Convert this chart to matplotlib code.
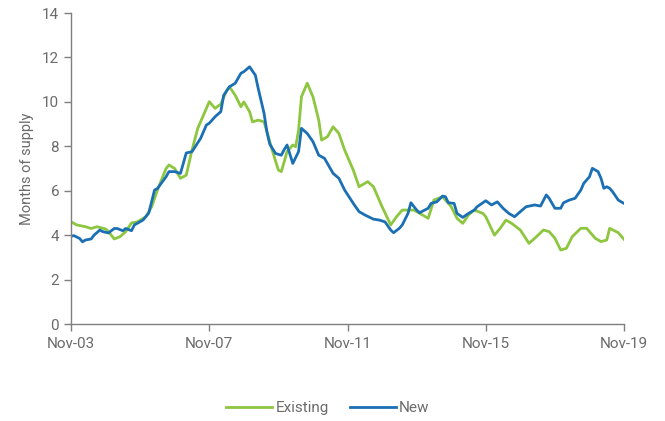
import matplotlib
matplotlib.use("Agg")
import matplotlib.pyplot as plt

# months since Nov-2003 and months of supply
existing_months = [0, 2, 5, 7, 9, 12, 13, 15, 17, 19, 21, 23, 26, 28, 30, 33, 34, 36, 38, 40,
                   42, 44, 46, 48, 50, 52, 54, 55, 57, 59, 60, 62, 63, 65, 67, 68, 70, 72, 73, 74,
                   75, 77, 78, 79, 80, 82, 84, 86, 87, 89, 91, 93, 95, 98, 100, 103, 105, 108, 111, 113,
                   115, 119, 122, 124, 126, 129, 132, 134, 136, 138, 140, 143, 144, 147, 149, 151, 153, 156, 159, 161,
                   164, 166, 168, 170, 172, 174, 177, 179, 182, 184, 186, 187, 190, 192]
existing = [4.6, 4.46, 4.38, 4.3, 4.38, 4.28, 4.16, 3.83, 3.93, 4.16, 4.55, 4.6, 4.83, 5.28, 6.03, 7.0, 7.16, 7.0, 6.56, 6.7,
            7.83, 8.81, 9.41, 10.01, 9.71, 9.9, 10.5, 10.68, 10.3, 9.78, 10.0, 9.56, 9.1, 9.18, 9.1, 8.66, 7.76, 6.93, 6.86, 7.3,
            7.76, 8.06, 7.98, 8.73, 10.23, 10.84, 10.23, 9.18, 8.28, 8.43, 8.88, 8.58, 7.83, 6.93, 6.18, 6.41, 6.18, 5.28, 4.46, 4.83,
            5.13, 5.13, 4.91, 4.76, 5.58, 5.73, 5.28, 4.76, 4.53, 4.91, 5.13, 4.98, 4.83, 4.0, 4.31, 4.68, 4.53, 4.23, 3.63, 3.86,
            4.23, 4.16, 3.86, 3.33, 3.41, 3.93, 4.31, 4.31, 3.86, 3.71, 3.78, 4.31, 4.11, 3.81]

new_months = [0, 1, 3, 4, 5, 7, 8, 10, 11, 13, 15, 16, 18, 19, 21, 22, 25, 27, 29, 30,
              33, 34, 36, 38, 40, 42, 45, 47, 48, 50, 52, 53, 55, 57, 59, 60, 62, 64, 65, 67,
              68, 69, 71, 73, 74, 75, 77, 79, 80, 82, 84, 86, 88, 91, 93, 95, 98, 100, 102, 105,
              107, 109, 111, 112, 114, 115, 117, 118, 120, 121, 124, 125, 127, 129, 130, 131, 133, 134, 136, 138,
              140, 141, 144, 146, 148, 150, 152, 154, 156, 158, 161, 163, 165, 166, 168, 170, 171, 173, 175, 177,
              178, 180, 181, 183, 184, 185, 186, 187, 188, 190, 191, 192]
new = [3.95, 3.98, 3.85, 3.7, 3.78, 3.83, 4.0, 4.23, 4.16, 4.1, 4.3, 4.3, 4.2, 4.3, 4.2, 4.46, 4.68, 5.0, 6.03, 6.1,
       6.63, 6.86, 6.86, 6.78, 7.7, 7.76, 8.36, 8.96, 9.04, 9.33, 9.56, 10.3, 10.68, 10.84, 11.29, 11.36, 11.58, 11.2, 10.6, 9.5,
       8.66, 8.1, 7.68, 7.6, 7.85, 8.06, 7.23, 7.76, 8.81, 8.58, 8.21, 7.6, 7.46, 6.78, 6.56, 6.03, 5.43, 5.06, 4.91, 4.72,
       4.68, 4.6, 4.23, 4.11, 4.31, 4.46, 4.98, 5.46, 5.13, 5.01, 5.21, 5.43, 5.5, 5.76, 5.73, 5.46, 5.43, 4.98, 4.8, 4.98,
       5.13, 5.28, 5.55, 5.36, 5.5, 5.21, 4.98, 4.83, 5.06, 5.28, 5.36, 5.31, 5.81, 5.66, 5.21, 5.21, 5.46, 5.58, 5.66, 6.03,
       6.33, 6.63, 7.01, 6.86, 6.56, 6.11, 6.18, 6.11, 5.96, 5.58, 5.5, 5.43]

tick_months = [0, 48, 96, 144, 192]
tick_labels = ["Nov-03", "Nov-07", "Nov-11", "Nov-15", "Nov-19"]

plt.rcParams["font.family"] = ["Roboto", "DejaVu Sans"]
grey = "#7f7f7f"
text_grey = "#6b6b6b"

fig = plt.figure(figsize=(6.65, 4.21), dpi=100)
ax = fig.add_axes([0.1068, 0.2304, 0.8316, 0.7386])

ax.plot(existing_months, existing, color="#8dc63f", lw=2.0, label="Existing")
ax.plot(new_months, new, color="#1b6fb5", lw=2.0, label="New")

ax.set_xlim(0, 192)
ax.set_ylim(0, 14)
ax.set_yticks(range(0, 15, 2))
ax.set_xticks(tick_months)
ax.set_xticklabels(tick_labels)

for side in ["top", "right"]:
    ax.spines[side].set_visible(False)
for side in ["left", "bottom"]:
    ax.spines[side].set_color(grey)
    ax.spines[side].set_linewidth(1.0)
ax.tick_params(axis="both", colors=grey, labelcolor=text_grey, labelsize=11, length=5, width=1.0)
ax.tick_params(axis="x", pad=4)

ax.set_ylabel("Months of supply", color=text_grey, fontsize=10.5, labelpad=6)

fig.legend(*ax.get_legend_handles_labels(), loc="center", bbox_to_anchor=(0.493, 0.03), ncol=2,
           frameon=False, fontsize=11, labelcolor=text_grey, handlelength=3.0, handletextpad=0.2,
           columnspacing=1.4)

fig.savefig("out.png", dpi=100)
